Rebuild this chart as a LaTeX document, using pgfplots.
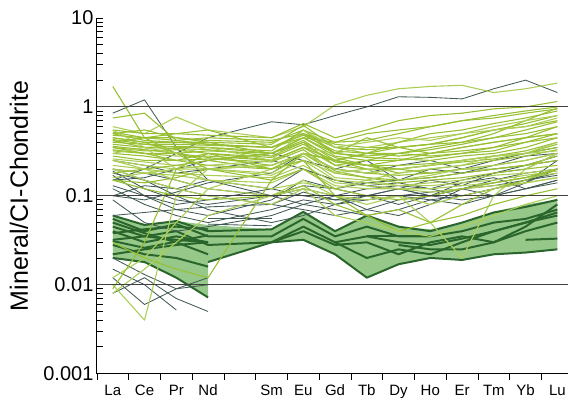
\documentclass[border=0pt]{standalone}
\usepackage{fontspec}
\setmainfont{Liberation Sans}
\usepackage{pgfplots}
\pgfplotsset{compat=1.18}
\definecolor{lgA}{RGB}{152,192,52}
\definecolor{lgB}{RGB}{172,206,88}
\definecolor{slate}{RGB}{66,90,84}
\definecolor{dkg}{RGB}{42,102,44}
\definecolor{fillg}{RGB}{150,200,138}
\begin{document}
\begin{tikzpicture}
\begin{axis}[
  scale only axis, width=472pt, height=356pt,
  ymode=log, ymin=0.001, ymax=10, xmin=-0.5, xmax=14.35,
  axis x line=bottom, axis y line=left,
  axis line style={-, line width=1pt, black},
  tick align=inside, major tick length=6pt, minor tick length=6pt,
  tick style={black, line width=0.8pt},
  xtick={-0.5,0.5,1.5,2.5,3.5,4.5,5.5,6.5,7.5,8.5,9.5,10.5,11.5,12.5,13.5},
  xticklabels={},
  x tick style={yshift=-6pt},
  extra x ticks={0,1,2,3,5,6,7,8,9,10,11,12,13,14},
  extra x tick labels={La,Ce,Pr,Nd,Sm,Eu,Gd,Tb,Dy,Ho,Er,Tm,Yb,Lu},
  extra x tick style={tick style={draw=none}},
  x tick label style={font=\fontsize{15}{17}\selectfont, anchor=base, yshift=-22pt},
  ytick={0.001,0.01,0.1,1,10},
  yticklabels={0.001,0.01,0.1,1,10},
  minor ytick={0.002,0.003,0.004,0.005,0.006,0.007,0.008,0.009,0.02,0.03,0.04,0.05,0.06,0.07,0.08,0.09,0.2,0.3,0.4,0.5,0.6,0.7,0.8,0.9,2,3,4,5,6,7,8,9},
  y tick label style={font=\fontsize{20}{24}\selectfont},
  ylabel={Mineral/CI-Chondrite},
  every axis y label/.style={at={(axis description cs:-0.1462,0.5)}, rotate=90, anchor=base, font=\fontsize{25}{30}\selectfont},
  every axis plot/.append style={line join=round},
]
% shaded envelope
\addplot[fill=fillg, draw=none, forget plot] coordinates {(0,0.06)(1,0.047)(2,0.052)(3,0.047)(5,0.042)(6,0.066)(7,0.04)(8,0.06)(9,0.045)(10,0.042)(11,0.05)(12,0.066)(13,0.08)(14,0.09)(14,0.025)(13,0.023)(12,0.022)(11,0.019)(10,0.02)(9,0.017)(8,0.012)(7,0.022)(6,0.032)(5,0.03)(3,0.018)(3,0.0072)(2,0.012)(1,0.018)(0,0.02)} -- cycle;

% dark green group
\pgfplotsset{dg/.style={dkg, line width=2pt, forget plot}}
\addplot[dg] coordinates {(0,0.06)(1,0.047)(2,0.052)(3,0.04)(5,0.042)(6,0.066)(7,0.04)(8,0.06)(9,0.045)(10,0.04)(11,0.05)(12,0.065)(13,0.075)(14,0.09)};
\addplot[dg] coordinates {(0,0.055)(1,0.04)(2,0.048)(3,0.035)(5,0.035)(6,0.055)(7,0.035)(8,0.045)(9,0.035)(10,0.035)(11,0.04)(12,0.05)(13,0.055)(14,0.07)};
\addplot[dg] coordinates {(0,0.032)(1,0.035)(2,0.032)(3,0.03)};
\addplot[dg] coordinates {(0,0.031)(1,0.026)(3,0.036)};
\addplot[dg] coordinates {(0,0.02)(1,0.018)(2,0.012)(3,0.0072)};
\addplot[dg] coordinates {(0,0.045)(1,0.035)(2,0.04)(3,0.028)(5,0.03)(6,0.045)(7,0.03)(8,0.035)(9,0.03)(10,0.028)(11,0.033)(12,0.04)(13,0.05)(14,0.06)};
\addplot[dg] coordinates {(0,0.04)(1,0.03)(2,0.035)(3,0.03)};
\addplot[dg] coordinates {(0,0.022)(1,0.025)(2,0.028)(3,0.03)};
\addplot[dg] coordinates {(0,0.05)(1,0.038)(2,0.03)(3,0.022)};
\addplot[dg] coordinates {(3,0.018)(5,0.03)(6,0.032)(7,0.022)(8,0.012)(9,0.017)(10,0.02)(11,0.019)(12,0.022)(13,0.023)(14,0.025)};
\addplot[dg] coordinates {(7,0.03)(8,0.02)(9,0.025)(10,0.022)(11,0.03)(12,0.04)(13,0.05)(14,0.065)};
\addplot[dg] coordinates {(8,0.035)(9,0.035)(10,0.035)};
\addplot[dg] coordinates {(13,0.032)(14,0.033)};
\addplot[dg] coordinates {(5,0.03)(6,0.04)(7,0.028)(8,0.03)(9,0.022)(10,0.03)(11,0.035)(12,0.03)(13,0.04)(14,0.05)};
\addplot[dg] coordinates {(9,0.028)(10,0.025)(11,0.025)(12,0.03)(13,0.045)(14,0.08)};
\addplot[dg] coordinates {(0,0.028)(1,0.022)(2,0.02)(3,0.016)};
\addplot[dg] coordinates {(0,0.038)(1,0.042)(2,0.045)(3,0.042)};

% slate group
\pgfplotsset{sl/.style={slate, line width=0.85pt, forget plot}}
\addplot[sl] coordinates {(0,0.85)(1,1.2)(2,0.35)(3,0.15)(5,0.12)(6,0.1)(7,0.09)(8,0.1)(9,0.12)(10,0.1)(11,0.12)(12,0.15)(13,0.18)(14,0.2)};
\addplot[sl] coordinates {(0,0.15)(1,0.2)(2,0.3)(3,0.45)(5,0.68)(6,0.63)(7,0.8)(8,1.0)(9,1.3)(10,1.28)(11,1.23)(12,1.6)(13,2.0)(14,1.45)};
\addplot[sl] coordinates {(0,0.2)(1,0.18)(2,0.15)(3,0.12)(5,0.1)(6,0.13)(7,0.12)(8,0.14)(9,0.15)(10,0.16)(11,0.18)(12,0.2)(13,0.22)(14,0.25)};
\addplot[sl] coordinates {(0,0.19)(1,0.12)(2,0.09)(3,0.08)(5,0.1)(6,0.12)(7,0.1)(8,0.12)(9,0.13)(10,0.12)(11,0.15)(12,0.18)(13,0.2)(14,0.3)};
\addplot[sl] coordinates {(0,0.18)(1,0.15)(2,0.12)(3,0.1)(5,0.08)(6,0.11)(7,0.09)(8,0.09)(9,0.1)(10,0.11)(11,0.12)(12,0.14)(13,0.16)(14,0.2)};
\addplot[sl] coordinates {(0,0.17)(1,0.1)(2,0.07)(3,0.06)(5,0.09)(6,0.15)(7,0.12)(8,0.1)(9,0.08)(10,0.1)(11,0.14)(12,0.16)(13,0.12)(14,0.15)};
\addplot[sl] coordinates {(0,0.15)(1,0.16)(2,0.2)(3,0.25)(5,0.3)(6,0.25)(7,0.2)(8,0.18)(9,0.22)(10,0.25)(11,0.2)(12,0.25)(13,0.3)(14,0.35)};
\addplot[sl] coordinates {(0,0.13)(1,0.1)(2,0.08)(3,0.09)(5,0.12)(6,0.2)(7,0.15)(8,0.13)(9,0.14)(10,0.12)(11,0.1)(12,0.12)(13,0.15)(14,0.17)};
\addplot[sl] coordinates {(0,0.12)(1,0.08)(2,0.06)(3,0.05)(5,0.07)(6,0.09)(7,0.08)(8,0.09)(9,0.1)(10,0.09)(11,0.1)(12,0.12)(13,0.14)(14,0.2)};
\addplot[sl] coordinates {(0,0.1)(1,0.09)(2,0.11)(3,0.14)(5,0.18)(6,0.3)(7,0.2)(8,0.25)(9,0.15)(10,0.2)(11,0.18)(12,0.22)(13,0.28)(14,0.3)};
\addplot[sl] coordinates {(0,0.09)(1,0.05)(2,0.04)(3,0.045)(5,0.06)(6,0.08)(7,0.07)(8,0.06)(9,0.07)(10,0.09)(11,0.08)(12,0.1)(13,0.12)(14,0.14)};
\addplot[sl] coordinates {(0,0.015)(1,0.01)(2,0.0052)};
\addplot[sl] coordinates {(0,0.012)(1,0.006)(2,0.009)(3,0.012)};
\addplot[sl] coordinates {(0,0.008)(1,0.012)(2,0.007)(3,0.005)};
\addplot[sl] coordinates {(0,0.02)(1,0.013)(2,0.009)(3,0.01)};
\addplot[sl] coordinates {(3,0.056)(5,0.056)};
\addplot[sl] coordinates {(3,0.048)(5,0.046)};
\addplot[sl] coordinates {(0,0.06)(1,0.065)(2,0.07)(3,0.075)(5,0.08)(6,0.07)(7,0.06)(8,0.07)(9,0.09)(10,0.1)(11,0.12)(12,0.13)(13,0.15)(14,0.18)};
\addplot[sl] coordinates {(0,0.25)(1,0.22)(2,0.18)(3,0.2)(5,0.25)(6,0.2)(7,0.15)(8,0.13)(9,0.12)(10,0.1)(11,0.09)(12,0.1)(13,0.12)(14,0.15)};
\addplot[sl] coordinates {(0,0.1)(1,0.13)(2,0.12)(3,0.15)(5,0.1)(6,0.08)(7,0.1)(8,0.07)(9,0.06)(10,0.08)(11,0.12)(12,0.1)(13,0.14)(14,0.25)};
\addplot[sl] coordinates {(0,0.2)(1,0.15)(2,0.1)(3,0.07)(5,0.05)(6,0.06)(7,0.08)(8,0.1)(9,0.12)(10,0.15)(11,0.13)(12,0.18)(13,0.22)(14,0.28)};

% light green group
\pgfplotsset{la/.style={lgA, line width=1.1pt, forget plot}, lb/.style={lgB, line width=1.1pt, forget plot}}
\addplot[la] coordinates {(0,1.7)(1,0.45)(2,0.3)(3,0.25)(5,0.2)(6,0.3)(7,0.25)(8,0.22)(9,0.2)(10,0.22)(11,0.25)(12,0.28)(13,0.3)(14,0.35)};
\addplot[la] coordinates {(0,0.75)(1,0.85)(2,0.42)(3,0.38)(5,0.35)(6,0.5)(7,0.35)(8,0.33)(9,0.35)(10,0.38)(11,0.4)(12,0.45)(13,0.5)(14,0.6)};
\addplot[lb] coordinates {(0,0.6)(1,0.5)(2,0.77)(3,0.55)(5,0.45)(6,0.6)(7,1.05)(8,1.35)(9,1.6)(10,1.7)(11,1.75)(12,1.45)(13,1.6)(14,1.85)};
\addplot[la] coordinates {(0,0.55)(1,0.5)(2,0.5)(3,0.48)(5,0.45)(6,0.65)(7,0.45)(8,0.55)(9,0.7)(10,0.8)(11,0.85)(12,0.95)(13,1.0)(14,1.15)};
\addplot[la] coordinates {(0,0.52)(1,0.45)(2,0.45)(3,0.42)(5,0.4)(6,0.55)(7,0.4)(8,0.42)(9,0.5)(10,0.6)(11,0.7)(12,0.8)(13,0.9)(14,1.0)};
\addplot[la] coordinates {(0,0.5)(1,0.42)(2,0.4)(3,0.4)(5,0.38)(6,0.62)(7,0.35)(8,0.3)(9,0.3)(10,0.35)(11,0.4)(12,0.5)(13,0.7)(14,0.97)};
\addplot[la] coordinates {(0,0.48)(1,0.45)(2,0.42)(3,0.45)(5,0.42)(6,0.5)(7,0.38)(8,0.35)(9,0.35)(10,0.38)(11,0.45)(12,0.55)(13,0.65)(14,0.8)};
\addplot[la] coordinates {(0,0.45)(1,0.4)(2,0.4)(3,0.38)(5,0.35)(6,0.45)(7,0.3)(8,0.28)(9,0.3)(10,0.33)(11,0.38)(12,0.45)(13,0.55)(14,0.68)};
\addplot[la] coordinates {(0,0.43)(1,0.38)(2,0.38)(3,0.37)(5,0.35)(6,0.48)(7,0.32)(8,0.3)(9,0.28)(10,0.3)(11,0.35)(12,0.4)(13,0.45)(14,0.6)};
\addplot[la] coordinates {(0,0.42)(1,0.35)(2,0.36)(3,0.35)(5,0.3)(6,0.45)(7,0.28)(8,0.25)(9,0.25)(10,0.27)(11,0.3)(12,0.35)(13,0.45)(14,0.5)};
\addplot[la] coordinates {(0,0.4)(1,0.38)(2,0.35)(3,0.35)(5,0.32)(6,0.55)(7,0.3)(8,0.27)(9,0.26)(10,0.25)(11,0.28)(12,0.3)(13,0.35)(14,0.45)};
\addplot[la] coordinates {(0,0.38)(1,0.35)(2,0.34)(3,0.33)(5,0.28)(6,0.4)(7,0.27)(8,0.22)(9,0.22)(10,0.23)(11,0.25)(12,0.28)(13,0.32)(14,0.4)};
\addplot[la] coordinates {(0,0.36)(1,0.33)(2,0.3)(3,0.32)(5,0.3)(6,0.42)(7,0.25)(8,0.2)(9,0.2)(10,0.22)(11,0.24)(12,0.26)(13,0.3)(14,0.38)};
\addplot[la] coordinates {(0,0.35)(1,0.32)(2,0.33)(3,0.3)(5,0.27)(6,0.38)(7,0.24)(8,0.22)(9,0.18)(10,0.2)(11,0.22)(12,0.25)(13,0.28)(14,0.33)};
\addplot[la] coordinates {(0,0.33)(1,0.3)(2,0.28)(3,0.28)(5,0.25)(6,0.35)(7,0.22)(8,0.2)(9,0.2)(10,0.18)(11,0.2)(12,0.22)(13,0.25)(14,0.3)};
\addplot[la] coordinates {(0,0.32)(1,0.3)(2,0.3)(3,0.27)(5,0.22)(6,0.3)(7,0.2)(8,0.18)(9,0.17)(10,0.18)(11,0.2)(12,0.2)(13,0.22)(14,0.28)};
\addplot[la] coordinates {(0,0.3)(1,0.28)(2,0.25)(3,0.26)(5,0.24)(6,0.33)(7,0.19)(8,0.16)(9,0.15)(10,0.16)(11,0.18)(12,0.2)(13,0.22)(14,0.25)};
\addplot[la] coordinates {(0,0.28)(1,0.25)(2,0.25)(3,0.22)(5,0.2)(6,0.3)(7,0.18)(8,0.16)(9,0.14)(10,0.15)(11,0.16)(12,0.18)(13,0.2)(14,0.22)};
\addplot[lb] coordinates {(0,0.26)(1,0.24)(2,0.22)(3,0.2)(5,0.18)(6,0.28)(7,0.16)(8,0.15)(9,0.13)(10,0.14)(11,0.15)(12,0.17)(13,0.18)(14,0.2)};
\addplot[lb] coordinates {(0,0.25)(1,0.22)(2,0.2)(3,0.2)(5,0.17)(6,0.25)(7,0.15)(8,0.14)(9,0.13)(10,0.13)(11,0.14)(12,0.15)(13,0.17)(14,0.19)};
\addplot[lb] coordinates {(0,0.22)(1,0.2)(2,0.18)(3,0.17)(5,0.16)(6,0.22)(7,0.14)(8,0.13)(9,0.12)(10,0.12)(11,0.13)(12,0.14)(13,0.16)(14,0.18)};
\addplot[lb] coordinates {(0,0.2)(1,0.18)(2,0.17)(3,0.15)(5,0.14)(6,0.2)(7,0.13)(8,0.12)(9,0.12)(10,0.11)(11,0.12)(12,0.13)(13,0.14)(14,0.16)};
\addplot[la] coordinates {(0,0.18)(1,0.2)(2,0.22)(3,0.25)(5,0.3)(6,0.45)(7,0.4)(8,0.5)(9,0.55)(10,0.6)(11,0.7)(12,0.75)(13,0.85)(14,0.95)};
\addplot[lb] coordinates {(0,0.16)(1,0.18)(2,0.2)(3,0.22)(5,0.25)(6,0.35)(7,0.3)(8,0.35)(9,0.4)(10,0.45)(11,0.5)(12,0.6)(13,0.7)(14,0.8)};
\addplot[la] coordinates {(0,0.15)(1,0.14)(2,0.16)(3,0.2)(5,0.22)(6,0.3)(7,0.25)(8,0.3)(9,0.35)(10,0.38)(11,0.45)(12,0.55)(13,0.6)(14,0.7)};
\addplot[lb] coordinates {(0,0.55)(1,0.35)(2,0.2)(3,0.15)(5,0.12)(6,0.14)(7,0.12)(8,0.15)(9,0.18)(10,0.2)(11,0.22)(12,0.28)(13,0.3)(14,0.4)};
\addplot[la] coordinates {(0,0.45)(1,0.4)(2,0.3)(3,0.2)(5,0.15)(6,0.3)(7,0.25)(8,0.3)(9,0.4)(10,0.5)(11,0.55)(12,0.65)(13,0.75)(14,0.9)};
\addplot[lb] coordinates {(0,0.01)(1,0.004)(2,0.1)(3,0.2)(5,0.22)(6,0.3)(7,0.2)(8,0.18)(9,0.2)(10,0.22)(11,0.25)(12,0.28)(13,0.3)(14,0.32)};
\addplot[la] coordinates {(0,0.009)(1,0.03)(2,0.2)(3,0.3)(5,0.25)(6,0.35)(7,0.25)(8,0.22)(9,0.25)(10,0.3)(11,0.32)(12,0.35)(13,0.4)(14,0.45)};
\addplot[lb] coordinates {(0,0.012)(1,0.02)(2,0.05)(3,0.12)(5,0.2)(6,0.25)(7,0.18)(8,0.2)(9,0.15)(10,0.17)(11,0.2)(12,0.22)(13,0.25)(14,0.3)};
\addplot[la] coordinates {(0,0.03)(1,0.02)(2,0.015)(3,0.012)(5,0.15)(6,0.2)(7,0.12)(8,0.1)(9,0.09)(10,0.1)(11,0.12)(12,0.14)(13,0.16)(14,0.2)};
\addplot[lb] coordinates {(0,0.25)(1,0.2)(2,0.15)(3,0.12)(5,0.1)(6,0.15)(7,0.1)(8,0.08)(9,0.1)(10,0.05)(11,0.02)(12,0.1)(13,0.2)(14,0.3)};
\addplot[la] coordinates {(0,0.35)(1,0.3)(2,0.25)(3,0.3)(5,0.2)(6,0.25)(7,0.1)(8,0.06)(9,0.04)(10,0.05)(11,0.08)(12,0.12)(13,0.15)(14,0.2)};
\addplot[la] coordinates {(0,0.4)(1,0.45)(2,0.5)(3,0.55)(5,0.35)(6,0.5)(7,0.3)(8,0.45)(9,0.35)(10,0.3)(11,0.35)(12,0.4)(13,0.45)(14,0.5)};
\addplot[lb] coordinates {(0,0.3)(1,0.35)(2,0.3)(3,0.35)(5,0.25)(6,0.55)(7,0.35)(8,0.4)(9,0.45)(10,0.42)(11,0.5)(12,0.55)(13,0.6)(14,0.75)};
\addplot[la] coordinates {(0,0.5)(1,0.55)(2,0.45)(3,0.4)(5,0.3)(6,0.4)(7,0.22)(8,0.25)(9,0.3)(10,0.28)(11,0.3)(12,0.32)(13,0.4)(14,0.5)};
\addplot[lb] coordinates {(0,0.2)(1,0.15)(2,0.12)(3,0.1)(5,0.08)(6,0.12)(7,0.06)(8,0.05)(9,0.04)(10,0.035)(11,0.045)(12,0.06)(13,0.08)(14,0.1)};
\addplot[la] coordinates {(0,0.15)(1,0.12)(2,0.1)(3,0.09)(5,0.1)(6,0.13)(7,0.08)(8,0.06)(9,0.07)(10,0.05)(11,0.06)(12,0.08)(13,0.1)(14,0.12)};
\addplot[lb] coordinates {(0,0.008)(1,0.015)(2,0.03)(3,0.06)(5,0.1)(6,0.12)(7,0.1)(8,0.09)(9,0.1)(10,0.08)(11,0.1)(12,0.12)(13,0.14)(14,0.16)};

% horizontal reference lines
\addplot[black!75, line width=1.2pt, forget plot] coordinates {(-0.5,1)(14.35,1)};
\addplot[black!75, line width=1.2pt, forget plot] coordinates {(-0.5,0.1)(14.35,0.1)};
\addplot[black!75, line width=1.2pt, forget plot] coordinates {(-0.5,0.01)(14.35,0.01)};
\end{axis}
\path[use as bounding box] (-97pt,-26pt) rectangle (472pt,374pt);
\end{tikzpicture}
\end{document}
